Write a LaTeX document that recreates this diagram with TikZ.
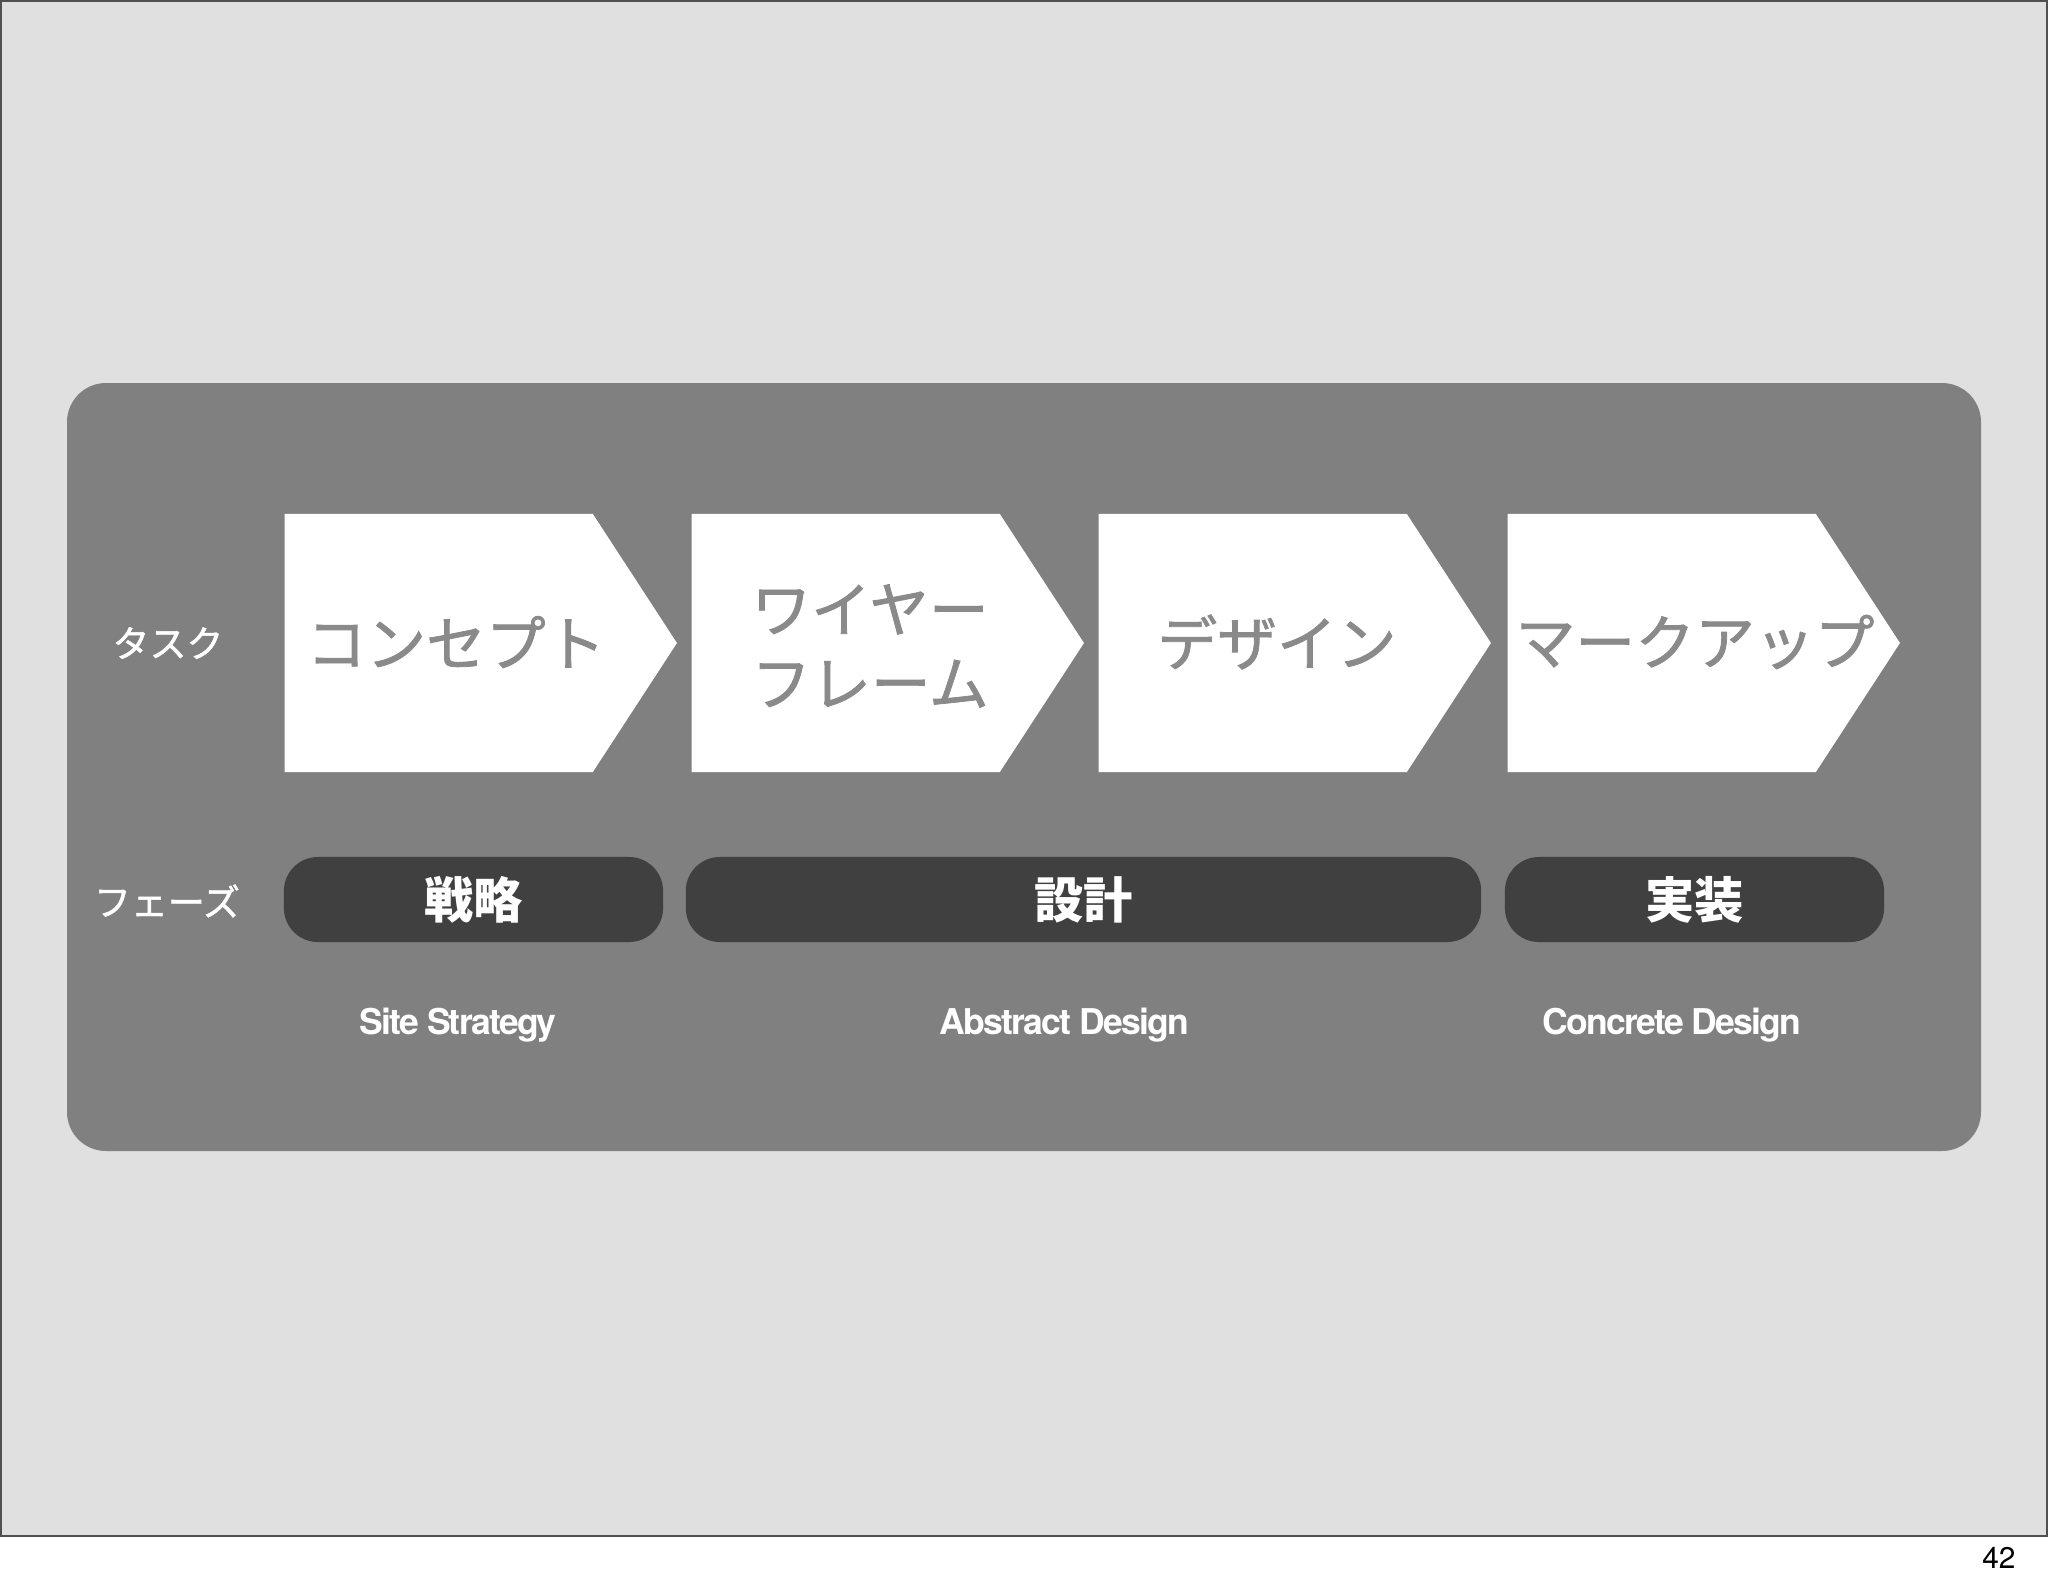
\documentclass[tikz,border=0pt]{standalone}
\usepackage{fontspec}
\setmainfont{TeX Gyre Heros}
\newfontfamily\jp{Noto Sans CJK JP}
\newfontfamily\jpmed{Noto Sans CJK JP}[FakeBold=1.3]
\usetikzlibrary{positioning, shapes.symbols}
\definecolor{slidebg}{HTML}{E0E0E0}
\definecolor{slideline}{HTML}{505050}
\definecolor{panelgray}{HTML}{808080}
\definecolor{phasebg}{HTML}{404040}
\definecolor{tasktext}{HTML}{8A8A8A}

\begin{document}
\begin{tikzpicture}[x=0.01cm, y=-0.01cm,
  task/.style={signal, signal to=east, signal pointer angle=113.8, fill=white,
    minimum width=3.92cm, minimum height=2.58cm, inner sep=0pt},
  tasktxt/.style={text=tasktext, align=left, font=\jpmed\fontsize{17}{21}\selectfont},
  phase/.style={fill=phasebg, rounded corners=0.34cm, minimum height=0.85cm,
    inner sep=0pt, text=white, font=\jp\bfseries\fontsize{14}{17}\selectfont},
  rowlabel/.style={text=white, font=\jpmed\fontsize{10.5}{12}\selectfont},
  sublabel/.style={text=white, font=\bfseries\fontsize{10.1}{12}\selectfont\addfontfeature{LetterSpace=-5}}]
  \useasboundingbox (0,0) rectangle (2048,1587);
  \fill[white] (0,0) rectangle (2048,1587);
  \draw[slideline, fill=slidebg, line width=0.6pt] (1,1) rectangle (2047,1536);
  \fill[panelgray, rounded corners=0.39cm] (67,383) rectangle (1981,1151);

  % tasks
  \node[task, anchor=west] (concept) at (284,643) {};
  \node[task, anchor=west] (wireframe) at (691,643) {};
  \node[task, anchor=west] (design) at (1098,643) {};
  \node[task, anchor=west] (markup) at (1507,643) {};
  \node[tasktxt] (concepttxt) at (456,642) {コンセプト};
  \node[tasktxt] (wireframetxt) at (870,646) {ワイヤー\\フレーム};
  \node[tasktxt] (designtxt) at (1277,642) {デザイン};
  \node[tasktxt] (markuptxt) at (1695,642) {マークアップ};

  % phases
  \node[phase, minimum width=3.79cm] (strategy) at (473.5,899.5) {戦略};
  \node[phase, minimum width=7.95cm] (plan) at (1083.5,899.5) {設計};
  \node[phase, minimum width=3.79cm] (build) at (1694.5,899.5) {実装};

  \node[rowlabel] (tasklbl) at (168,643) {タスク};
  \node[rowlabel] (phaselbl) at (167,901) {フェーズ};

  \node[sublabel] (strategylbl) at (458,1025) {Site Strategy};
  \node[sublabel] (planlbl) at (1064,1025) {Abstract Design};
  \node[sublabel] (buildlbl) at (1672,1025) {Concrete Design};

  \node[anchor=base east, font=\fontsize{8.5}{10}\selectfont] (pagenum) at (2028,1568) {42};
\end{tikzpicture}
\end{document}
